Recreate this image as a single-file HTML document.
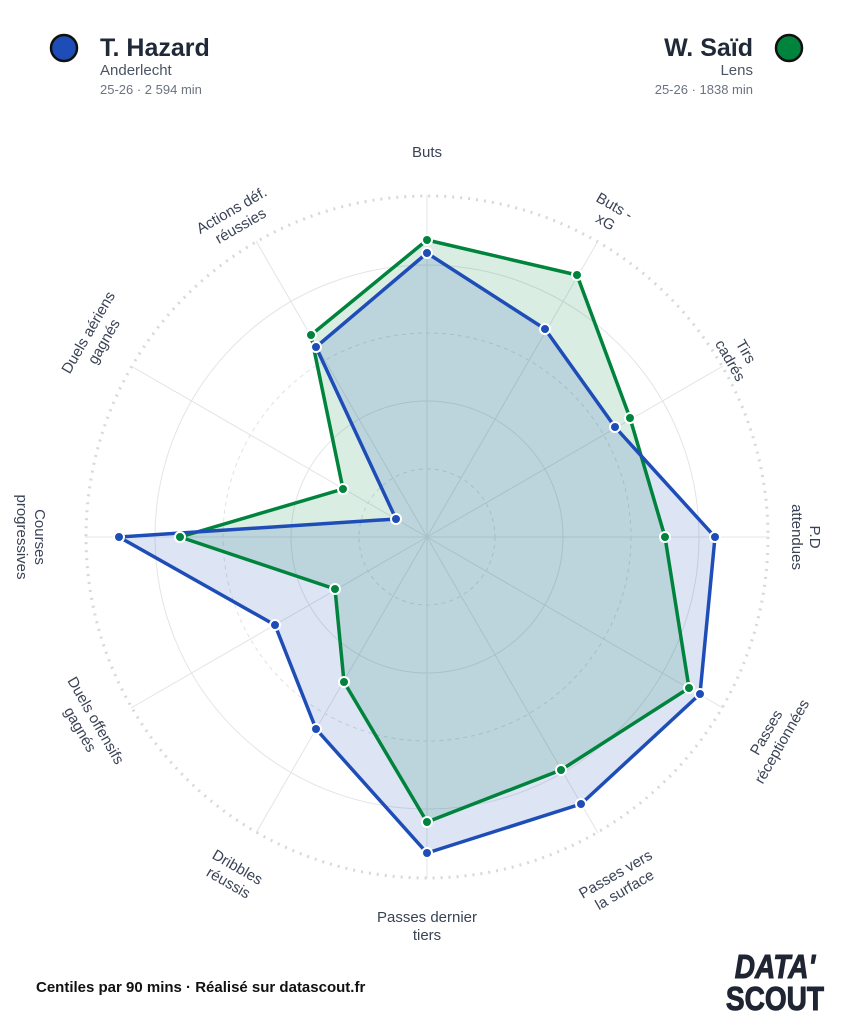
<!DOCTYPE html>
<html><head><meta charset="utf-8"><style>
body{margin:0;background:#fff;width:853px;height:1024px;overflow:hidden;font-family:"Liberation Sans",sans-serif}
</style></head><body>
<svg width="853" height="1024" viewBox="0 0 853 1024" xmlns="http://www.w3.org/2000/svg" font-family="Liberation Sans, sans-serif">
<rect width="853" height="1024" fill="#fff"/>
<circle cx="64" cy="48" r="13" fill="#1e4db7" stroke="#111" stroke-width="2.5"/>
<text x="100" y="56" font-size="25" font-weight="bold" fill="#1f2937">T. Hazard</text>
<text x="100" y="75" font-size="15" fill="#4b5563">Anderlecht</text>
<text x="100" y="94" font-size="13" fill="#6b7280">25-26 · 2 594 min</text>
<circle cx="789" cy="48" r="13" fill="#00843d" stroke="#111" stroke-width="2.5"/>
<text x="753" y="56" font-size="25" font-weight="bold" fill="#1f2937" text-anchor="end">W. Saïd</text>
<text x="753" y="75" font-size="15" fill="#4b5563" text-anchor="end">Lens</text>
<text x="753" y="94" font-size="13" fill="#6b7280" text-anchor="end">25-26 · 1838 min</text>
<g fill="none">
<circle cx="427" cy="537" r="68" stroke="#dfe1e6" stroke-dasharray="4,4"/>
<circle cx="427" cy="537" r="136" stroke="#e3e4e8"/>
<circle cx="427" cy="537" r="204" stroke="#dfe1e6" stroke-dasharray="4,4"/>
<circle cx="427" cy="537" r="272" stroke="#e3e4e8"/>
<circle cx="427" cy="537" r="341" stroke="#d6d8dd" stroke-width="3" stroke-dasharray="2,6"/>
<g stroke="#e3e4e8">
<line x1="427" y1="537" x2="427" y2="195"/><line x1="427" y1="537" x2="598" y2="241"/>
<line x1="427" y1="537" x2="723" y2="366"/><line x1="427" y1="537" x2="769" y2="537"/>
<line x1="427" y1="537" x2="723" y2="708"/><line x1="427" y1="537" x2="598" y2="833"/>
<line x1="427" y1="537" x2="427" y2="879"/><line x1="427" y1="537" x2="256" y2="833"/>
<line x1="427" y1="537" x2="131" y2="708"/><line x1="427" y1="537" x2="85" y2="537"/>
<line x1="427" y1="537" x2="131" y2="366"/><line x1="427" y1="537" x2="256" y2="241"/>
</g></g>
<polygon points="427,240 577,275 630,418 665,537 689,688 561,770 427,822 344,682 335,589 180,537 343,489 311,335" fill="rgba(0,132,61,0.15)" stroke="none"/>
<polygon points="427,253 545,329 615,427 715,537 700,694 581,804 427,853 316,729 275,625 119,537 396,519 316,347" fill="rgba(30,77,183,0.15)" stroke="none"/>
<polygon points="427,240 577,275 630,418 665,537 689,688 561,770 427,822 344,682 335,589 180,537 343,489 311,335" fill="none" stroke="#00843d" stroke-width="3.5" stroke-linejoin="round"/>
<polygon points="427,253 545,329 615,427 715,537 700,694 581,804 427,853 316,729 275,625 119,537 396,519 316,347" fill="none" stroke="#1e4db7" stroke-width="3.5" stroke-linejoin="round"/>
<g fill="#00843d" stroke="#fff" stroke-width="2">
<circle cx="427" cy="240" r="5"/><circle cx="577" cy="275" r="5"/><circle cx="630" cy="418" r="5"/><circle cx="665" cy="537" r="5"/><circle cx="689" cy="688" r="5"/><circle cx="561" cy="770" r="5"/><circle cx="427" cy="822" r="5"/><circle cx="344" cy="682" r="5"/><circle cx="335" cy="589" r="5"/><circle cx="180" cy="537" r="5"/><circle cx="343" cy="489" r="5"/><circle cx="311" cy="335" r="5"/>
</g>
<g fill="#1e4db7" stroke="#fff" stroke-width="2">
<circle cx="427" cy="253" r="5"/><circle cx="545" cy="329" r="5"/><circle cx="615" cy="427" r="5"/><circle cx="715" cy="537" r="5"/><circle cx="700" cy="694" r="5"/><circle cx="581" cy="804" r="5"/><circle cx="427" cy="853" r="5"/><circle cx="316" cy="729" r="5"/><circle cx="275" cy="625" r="5"/><circle cx="119" cy="537" r="5"/><circle cx="396" cy="519" r="5"/><circle cx="316" cy="347" r="5"/>
</g>
<g font-size="15" fill="#3a4356" text-anchor="middle">
<text x="427" y="157">Buts</text>
<g transform="translate(610,214) rotate(30)"><text y="-4">Buts -</text><text y="14">xG</text></g>
<g transform="translate(738,356) rotate(60)"><text y="-4">Tirs</text><text y="14">cadrés</text></g>
<g transform="translate(806,537) rotate(90)"><text y="-4">P.D</text><text y="14">attendues</text></g>
<g transform="translate(774,737) rotate(-60)"><text y="-4">Passes</text><text y="14">réceptionnées</text></g>
<g transform="translate(620,882) rotate(-30)"><text y="-4">Passes vers</text><text y="14">la surface</text></g>
<g transform="translate(427,926)"><text y="-4">Passes dernier</text><text y="14">tiers</text></g>
<g transform="translate(233,875) rotate(30)"><text y="-4">Dribbles</text><text y="14">réussis</text></g>
<g transform="translate(88,725) rotate(60)"><text y="-4">Duels offensifs</text><text y="14">gagnés</text></g>
<g transform="translate(31,537) rotate(90)"><text y="-4">Courses</text><text y="14">progressives</text></g>
<g transform="translate(96,337) rotate(-60)"><text y="-4">Duels aériens</text><text y="14">gagnés</text></g>
<g transform="translate(236,218) rotate(-30)"><text y="-4">Actions déf.</text><text y="14">réussies</text></g>
</g>
<text x="36" y="992" font-size="15" font-weight="bold" fill="#111">Centiles par 90 mins · Réalisé sur datascout.fr</text>
<g font-weight="bold" fill="#1f2533" text-anchor="middle" stroke="#1f2533" stroke-width="1">
<text x="775" y="978" font-size="33" font-style="italic" transform="translate(775,978) scale(0.85,1) translate(-775,-978)">DATA'</text>
<text x="775" y="1010" font-size="33" transform="translate(775,1010) scale(0.85,1) translate(-775,-1010)">SCOUT</text>
</g>
</svg>
</body></html>
